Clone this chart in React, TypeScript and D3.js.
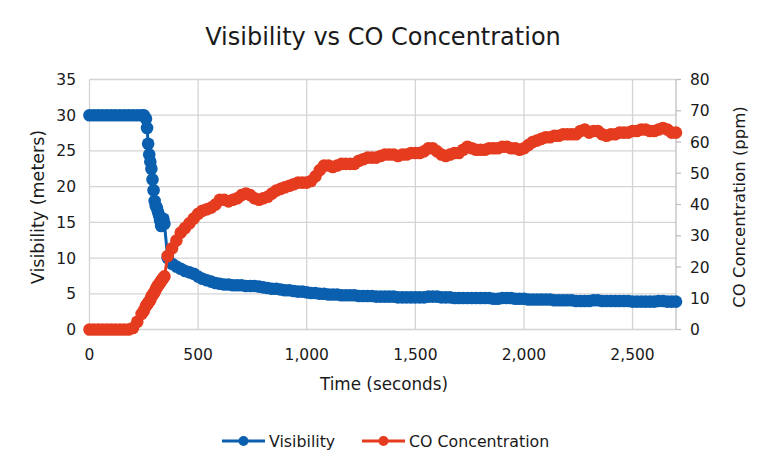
import { useEffect, useRef } from 'react'
import * as d3 from 'd3'

// --- DATA ---
const times = [
  0, 20, 40, 60, 80, 100, 120, 140, 160, 180, 200, 220, 240, 250, 260, 265, 270, 275, 280, 285,
  290, 295, 300, 305, 310, 315, 320, 325, 330, 335, 340, 345, 360, 380,
  400, 420, 440, 460, 480, 500, 520, 540, 560, 580, 600, 620, 640, 660, 680, 700, 720, 740, 760, 780,
  800, 820, 840, 860, 880, 900, 920, 940, 960, 980, 1000, 1020, 1040, 1060, 1080, 1100, 1120, 1140,
  1160, 1180, 1200, 1220, 1240, 1260, 1280, 1300, 1320, 1340, 1360, 1380, 1400, 1420, 1440, 1460,
  1480, 1500, 1520, 1540, 1560, 1580, 1600, 1620, 1640, 1660, 1680, 1700, 1720, 1740, 1760, 1780,
  1800, 1820, 1840, 1860, 1880, 1900, 1920, 1940, 1960, 1980, 2000, 2020, 2040, 2060, 2080, 2100,
  2120, 2140, 2160, 2180, 2200, 2220, 2240, 2260, 2280, 2300, 2320, 2340, 2360, 2380, 2400, 2420,
  2440, 2460, 2480, 2500, 2520, 2540, 2560, 2580, 2600, 2620, 2640, 2660, 2680, 2700,
]

const visibility = [
  30, 30, 30, 30, 30, 30, 30, 30, 30, 30, 30, 30, 30, 30, 29.5, 28.2, 26, 24.5, 23.5, 22.5,
  21, 19.5, 18, 17.3, 17, 16.5, 16, 15.3, 14.5, 15, 15.5, 14.8, 10.0, 9.2,
  8.8, 8.5, 8.2, 8.0, 7.8, 7.4, 7.1, 6.9, 6.7, 6.5, 6.4, 6.3, 6.3, 6.2, 6.2, 6.2, 6.1, 6.1, 6.1, 6.0,
  5.9, 5.8, 5.7, 5.7, 5.6, 5.5, 5.5, 5.4, 5.3, 5.3, 5.2, 5.1, 5.1, 5.0, 5.0, 4.9, 4.9, 4.9,
  4.8, 4.8, 4.8, 4.8, 4.7, 4.7, 4.7, 4.7, 4.6, 4.6, 4.6, 4.6, 4.6, 4.5, 4.5, 4.5,
  4.5, 4.5, 4.5, 4.5, 4.6, 4.6, 4.6, 4.5, 4.5, 4.5, 4.4, 4.4, 4.4, 4.4, 4.4, 4.4,
  4.4, 4.4, 4.4, 4.3, 4.3, 4.4, 4.4, 4.4, 4.3, 4.3, 4.3, 4.2, 4.2, 4.2, 4.2, 4.2,
  4.2, 4.1, 4.1, 4.1, 4.1, 4.1, 4.0, 4.0, 4.0, 4.0, 4.1, 4.1, 4.0, 4.0, 4.0, 4.0,
  4.0, 4.0, 4.0, 3.9, 3.9, 3.9, 3.9, 3.9, 3.9, 4.0, 4.0, 3.9, 3.9, 3.9,
]

const coConcentration = [
  0, 0, 0, 0, 0, 0, 0, 0, 0, 0, 0.5, 2.5, 5, 6, 7.5, 8, 8.5, 9, 9.5, 10.5,
  11, 11.5, 12, 12.8, 13.5, 14, 14.5, 15, 15.5, 16, 16.5, 17, 23.5, 26,
  28.5, 31, 32.5, 34, 35.5, 37, 38, 38.5, 39, 40, 41.5, 41.5, 41, 41.5, 42, 43, 43.5, 43, 42, 41.5,
  42, 42.5, 43.5, 44.5, 45, 45.5, 46, 46.5, 47, 47, 47, 47.5, 49, 51, 52.5, 52.5, 52, 52.5,
  53, 53, 53, 53, 54, 54.5, 55, 55, 55, 55.5, 56, 56, 56, 55.5, 56, 56,
  56.5, 56.5, 56.5, 57, 58, 58, 57, 56, 55.5, 56, 56.5, 56.5, 57.5, 58.5, 58, 57.5,
  57.5, 57.5, 58, 58, 58, 58.5, 58.5, 58, 58, 57.5, 58, 59, 60, 60.5, 61, 61.5,
  61.5, 62, 62, 62.5, 62.5, 62.5, 62.5, 63.5, 64, 63, 63.5, 63.5, 62.5, 62, 62.5, 62.5,
  63, 63, 63, 63.5, 63.5, 64, 64, 63.5, 63.5, 64, 64.5, 64, 63, 63,
]

const xTicks = [0, 500, 1000, 1500, 2000, 2500]
const leftTicks = [0, 5, 10, 15, 20, 25, 30, 35]
const rightTicks = [0, 10, 20, 30, 40, 50, 60, 70, 80]

const seriesNames = ['Visibility', 'CO Concentration']
const seriesColors = ['#0a5fae', '#e53b1e']

type Pt = { t: number; v: number }

export default function App() {
  const svgRef = useRef<SVGSVGElement | null>(null)

  useEffect(() => {
    if (!svgRef.current) return
    const width = 770
    const height = 474
    const font = "'DejaVu Sans', sans-serif"
    const textColor = '#1a1a1a'

    const svg = d3.select(svgRef.current)
    svg.selectAll('*').remove()
    svg.attr('width', width).attr('height', height)

    svg.append('rect').attr('width', width).attr('height', height).attr('fill', '#fff')

    // --- SCALES ---
    const x = d3.scaleLinear().domain([0, 2700]).range([89.5, 676])
    const yL = d3.scaleLinear().domain([0, 35]).range([329.5, 79.5])
    const yR = d3.scaleLinear().domain([0, 80]).range([329.5, 79.5])

    // --- GRID ---
    const grid = svg.append('g').attr('stroke', '#d4d4d4').attr('stroke-width', 1.3)
    leftTicks.forEach((t) => {
      grid.append('line').attr('x1', x(0)).attr('x2', x(2700)).attr('y1', yL(t)).attr('y2', yL(t))
    })
    xTicks.forEach((t) => {
      grid.append('line').attr('x1', x(t)).attr('x2', x(t)).attr('y1', yL(0)).attr('y2', yL(35))
    })

    // right axis line + ticks
    const rAxis = svg.append('g').attr('stroke', '#bfbfbf').attr('stroke-width', 1.3)
    rAxis.append('line').attr('x1', x(2700)).attr('x2', x(2700)).attr('y1', yR(0)).attr('y2', yR(80))
    rightTicks.forEach((t) => {
      rAxis.append('line').attr('x1', x(2700)).attr('x2', x(2700) + 5).attr('y1', yR(t)).attr('y2', yR(t))
    })

    // --- TICK LABELS ---
    const labels = svg
      .append('g')
      .attr('font-family', font)
      .attr('font-size', 15.5)
      .attr('fill', textColor)
    leftTicks.forEach((t) => {
      labels
        .append('text')
        .attr('x', 76)
        .attr('y', yL(t) + 5.5)
        .attr('text-anchor', 'end')
        .text(t)
    })
    rightTicks.forEach((t) => {
      labels
        .append('text')
        .attr('x', 690)
        .attr('y', yR(t) + 5.5)
        .text(t)
    })
    xTicks.forEach((t) => {
      labels
        .append('text')
        .attr('x', x(t))
        .attr('y', 360)
        .attr('text-anchor', 'middle')
        .text(d3.format(',')(t))
    })

    // --- TITLES ---
    svg
      .append('text')
      .attr('x', 383)
      .attr('y', 45)
      .attr('text-anchor', 'middle')
      .attr('font-family', font)
      .attr('font-size', 24)
      .attr('fill', textColor)
      .text('Visibility vs CO Concentration')

    svg
      .append('text')
      .attr('x', 384)
      .attr('y', 390)
      .attr('text-anchor', 'middle')
      .attr('font-family', font)
      .attr('font-size', 16.8)
      .attr('fill', textColor)
      .text('Time (seconds)')

    svg
      .append('text')
      .attr('transform', `translate(44, 207) rotate(-90)`)
      .attr('text-anchor', 'middle')
      .attr('font-family', font)
      .attr('font-size', 17.5)
      .attr('fill', textColor)
      .text('Visibility (meters)')

    svg
      .append('text')
      .attr('transform', `translate(745, 207) rotate(-90)`)
      .attr('text-anchor', 'middle')
      .attr('font-family', font)
      .attr('font-size', 16.5)
      .attr('fill', textColor)
      .text('CO Concentration (ppm)')

    // --- SERIES ---
    const visPts: Pt[] = times.map((t, i) => ({ t, v: visibility[i] }))
    const coPts: Pt[] = times.map((t, i) => ({ t, v: coConcentration[i] }))

    const drawSeries = (pts: Pt[], y: d3.ScaleLinear<number, number>, color: string) => {
      const line = d3
        .line<Pt>()
        .x((p) => x(p.t))
        .y((p) => y(p.v))
      const g = svg.append('g')
      g.append('path')
        .datum(pts)
        .attr('fill', 'none')
        .attr('stroke', color)
        .attr('stroke-width', 3)
        .attr('d', line)
      g.selectAll('circle')
        .data(pts)
        .enter()
        .append('circle')
        .attr('cx', (p) => x(p.t))
        .attr('cy', (p) => y(p.v))
        .attr('r', 6.3)
        .attr('fill', color)
    }

    drawSeries(visPts, yL, seriesColors[0])
    drawSeries(coPts, yR, seriesColors[1])

    // --- LEGEND ---
    const legend = svg.append('g').attr('font-family', font).attr('font-size', 15.8).attr('fill', textColor)
    const legendX = [222, 362]
    seriesNames.forEach((name, i) => {
      const lx = legendX[i]
      legend
        .append('line')
        .attr('x1', lx)
        .attr('x2', lx + 43)
        .attr('y1', 441)
        .attr('y2', 441)
        .attr('stroke', seriesColors[i])
        .attr('stroke-width', 3)
      legend
        .append('circle')
        .attr('cx', lx + 21.5)
        .attr('cy', 441)
        .attr('r', 5)
        .attr('fill', seriesColors[i])
      legend
        .append('text')
        .attr('x', lx + 47)
        .attr('y', 446.5)
        .text(name)
    })
  }, [])

  return (
    <div style={{ width: 770, height: 474, margin: -8 }}>
      <svg ref={svgRef} style={{ display: 'block' }} />
    </div>
  )
}
